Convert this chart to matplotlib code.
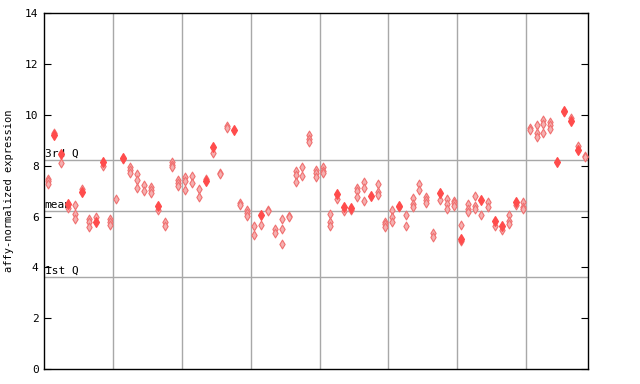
import numpy as np
import matplotlib
matplotlib.use("Agg")
import matplotlib.pyplot as plt

# valores de cada muestra (columna): puntos rayados y punto relleno
rayados = [
    [7.5, 7.4, 7.3], [9.3], [8.1], [6.35], [6.44, 6.09, 5.89],
    [7.1], [5.92, 5.8, 5.58], [5.97], [8.0], [5.92, 5.8, 5.66],
    [6.69], [8.25], [7.96, 7.85, 7.7], [7.67, 7.44, 7.11], [7.24, 7.0],
    [7.15, 7.04, 6.92], [6.25], [5.79, 5.63], [8.15, 8.05, 7.94], [7.44, 7.33, 7.22],
    [7.55, 7.39, 7.06], [7.6, 7.31], [7.09, 6.77], [7.5], [8.52],
    [7.72, 7.68], [9.58, 9.47], [], [6.55, 6.45], [6.26, 6.15, 6.02],
    [5.63, 5.26], [5.66], [6.28, 6.22], [5.5, 5.36], [5.89, 5.5, 4.91],
    [6.02, 5.97], [7.78, 7.62, 7.35], [7.96, 7.6], [9.2, 9.05, 8.95], [7.83, 7.7, 7.57],
    [7.95, 7.8, 7.7], [6.09, 5.8, 5.63], [6.68], [6.24], [6.28],
    [7.11, 7.02, 6.78], [7.36, 7.14, 6.6], [], [7.27, 6.98, 6.86], [5.8, 5.7, 5.6],
    [6.26, 6.0, 5.8], [6.36], [6.06, 5.63], [6.72, 6.5, 6.39], [7.28, 7.05],
    [6.76, 6.65, 6.55], [5.34, 5.21], [6.65], [6.68, 6.5, 6.31], [6.63, 6.52, 6.42],
    [5.66, 5.05], [6.5, 6.31, 6.2], [6.83, 6.4, 6.3], [6.05], [6.57, 6.39],
    [5.63], [5.47], [6.05, 5.81, 5.71], [6.46], [6.56, 6.39, 6.29],
    [9.47, 9.4], [9.59, 9.28, 9.12], [9.8, 9.65, 9.28], [9.72, 9.62, 9.46], [],
    [10.1], [9.9], [8.8], [8.4, 8.33],
]
rellenos = [
    None, 9.22, 8.45, 6.5, None, 6.97, None, 5.79, 8.15, None,
    None, 8.3, None, None, None, None, 6.4, None, None, None,
    None, None, None, 7.42, 8.75, None, None, 9.41, None, None,
    None, 6.07, None, None, None, None, None, None, None, None,
    None, None, 6.89, 6.37, 6.33, None, None, 6.81, None, None,
    None, 6.42, None, None, None, None, None, 6.94, None, None,
    5.12, None, None, 6.65, None, 5.84, 5.64, None, 6.59, None,
    None, None, None, None, 8.17, 10.15, 9.78, 8.62, None,
]
tercer_q = 8.23
media = 6.21
primer_q = 3.61
grupos = 10

fig = plt.figure(figsize=(6.4, 3.84), dpi=100)
ax = fig.add_axes([0.069, 0.039, 0.85, 0.926])

xr, yr = [], []
for i, vals in enumerate(rayados):
    for v in vals:
        xr.append(i)
        yr.append(v)
xs = [i for i, v in enumerate(rellenos) if v is not None]
ys = [v for v in rellenos if v is not None]

ax.scatter(xr, yr, marker="d", s=20, facecolor="#f5b0b0", edgecolor="#f07070",
           linewidths=0.8, zorder=3)
ax.scatter(xs, ys, marker="d", s=24, color="#ff4c4c", zorder=4)

gris = "#a8a8a8"
for y in (tercer_q, media, primer_q):
    ax.axhline(y, color=gris, lw=1, zorder=1)
n = len(rayados)
for k in range(grupos, n, grupos):
    ax.axvline(k - 0.5, color=gris, lw=1, zorder=1)

mono = "DejaVu Sans Mono"
ax.text(-0.45, tercer_q + 0.05, "3rd Q", family=mono, fontsize=8, va="bottom", ha="left")
ax.text(-0.45, media + 0.05, "mean", family=mono, fontsize=8, va="bottom", ha="left")
ax.text(-0.45, primer_q + 0.05, "1st Q", family=mono, fontsize=8, va="bottom", ha="left")

ax.set_xlim(-0.5, n - 0.5)
ax.set_ylim(0, 14)
ax.set_yticks(range(0, 15, 2))
ax.set_yticklabels([str(t) for t in range(0, 15, 2)], family=mono, fontsize=8)
ax.set_xticks([])
ax.tick_params(axis="y", direction="in", length=5, right=True, left=True, pad=4)
for s in ax.spines.values():
    s.set_color("black")
    s.set_linewidth(1)
ax.set_ylabel("affy-normalized expression", family=mono, fontsize=7.5, labelpad=8)

fig.savefig("out.png", dpi=100)
